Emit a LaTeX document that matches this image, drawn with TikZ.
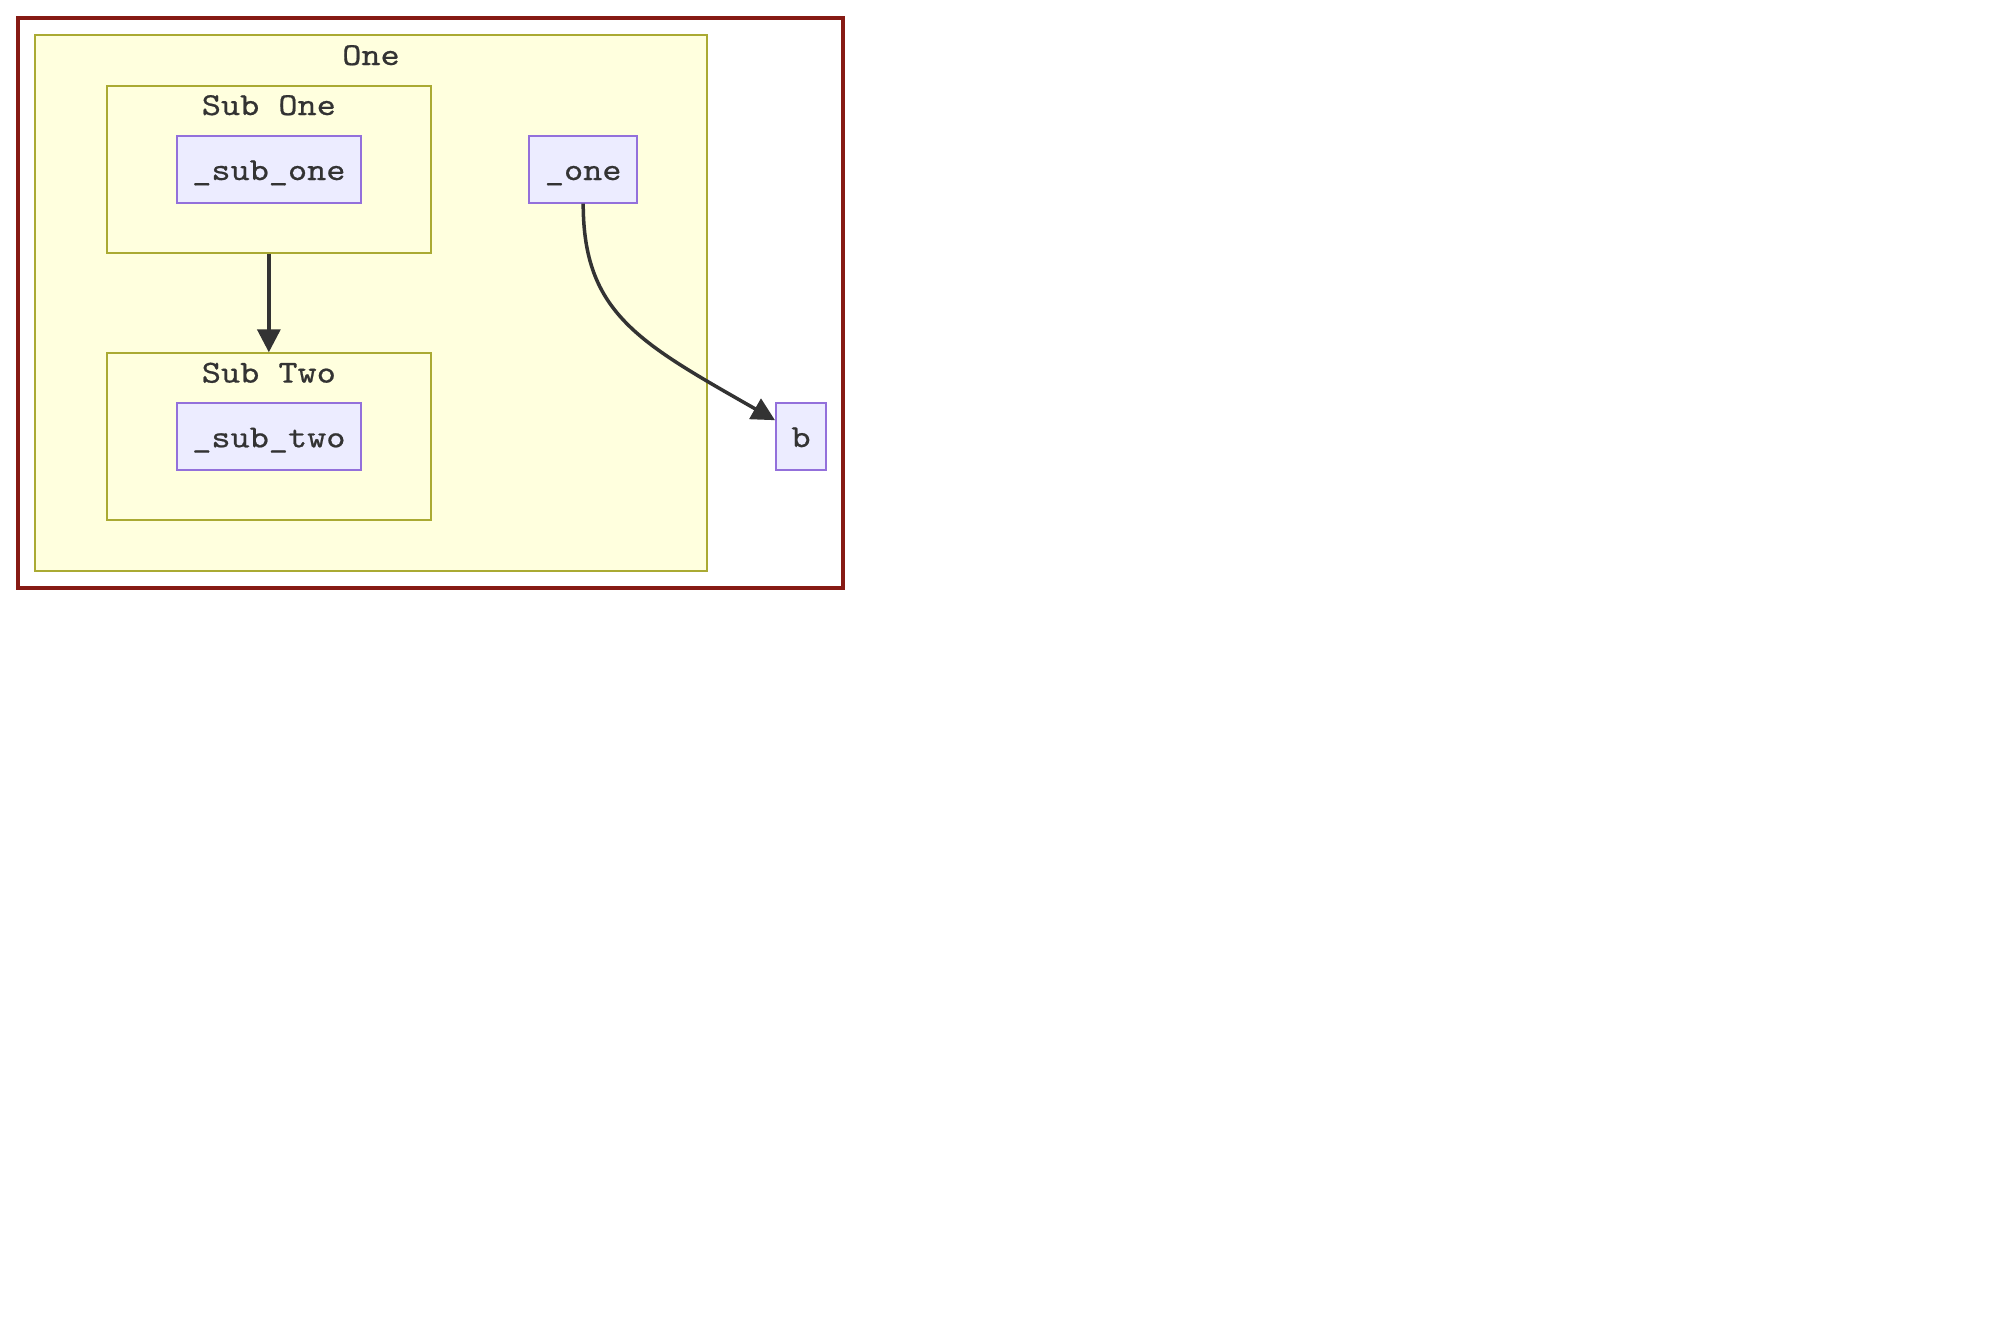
\documentclass[tikz,border=0pt]{standalone}
\usepackage{fontspec}
\setmonofont{lmmono10-regular.otf}[FakeStretch=1.14,FakeBold=0.6]
\usetikzlibrary{arrows.meta}
\definecolor{txt}{HTML}{333333}
\definecolor{nfill}{HTML}{ECECFF}
\definecolor{nstroke}{HTML}{9370DB}
\definecolor{cfill}{HTML}{FFFFDE}
\definecolor{cstroke}{HTML}{AAAA33}
\definecolor{outerred}{HTML}{861A14}
\tikzset{
  basefont/.style={font=\ttfamily\fontsize{32}{38}\selectfont, text=txt},
  nodebox/.style={basefont, draw=nstroke, fill=nfill, line width=2pt, rectangle, inner sep=0pt, minimum height=67pt, text height=21.6pt, text depth=0pt},
  clusterbox/.style={draw=cstroke, fill=cfill, line width=2pt, rectangle, inner sep=0pt},
  outerbox/.style={draw=outerred, line width=4pt, rectangle, inner sep=0pt},
  lbl/.style={basefont, anchor=base, inner sep=0pt},
  edge/.style={draw=txt, line width=3.5pt, -{Triangle[length=23pt,width=23pt]}}
}
\begin{document}
\begin{tikzpicture}[x=1pt,y=-1pt]
\useasboundingbox (0,0) rectangle (2000,1320);
\node[outerbox, minimum width=825.3pt, minimum height=570pt] (outer) at (430.65,303) {};
\node[clusterbox, minimum width=671.4pt, minimum height=535.2pt] (cone) at (371,302.9) {};
\node[clusterbox, minimum width=324.3pt, minimum height=167pt] (csubone) at (268.85,169.2) {};
\node[clusterbox, minimum width=324.3pt, minimum height=166.2pt] (csubtwo) at (268.85,436.4) {};
\node[lbl] (lone) at (371,65) {One};
\node[lbl] (lsubone) at (268.85,115) {Sub One};
\node[lbl] (lsubtwo) at (268.85,382.6) {Sub Two};
\node[nodebox, minimum width=184.3pt] (subone) at (268.85,169.2) {\_sub\_one};
\node[nodebox, minimum width=184.3pt] (subtwo) at (268.85,436.5) {\_sub\_two};
\node[nodebox, minimum width=107.7pt] (one) at (583.2,169.2) {\_one};
\node[nodebox, minimum width=50pt] (b) at (801,436.2) {b};
\draw[edge] (csubone.south) -- (csubtwo.north);
\draw[edge] (one.south) .. controls ++(0,110) and (640,343) .. ([yshift=16pt]b.west);
\end{tikzpicture}
\end{document}
